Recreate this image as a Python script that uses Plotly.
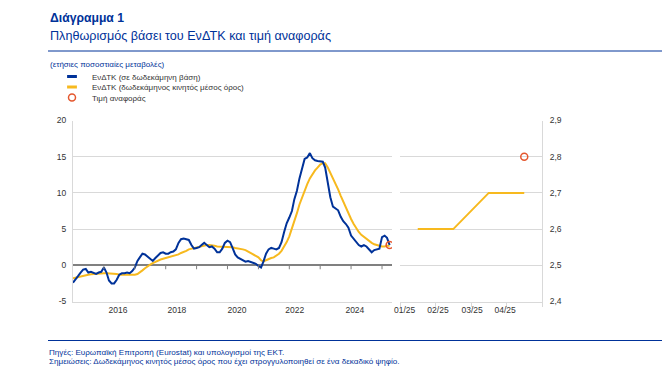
import pandas as pd
import plotly.graph_objects as go

# ---------------- data ----------------
start_month = "2015-01-01"

# HICP, annual rate of change (%), monthly Jan 2015 - Apr 2025
hicp_annual = [
    -2.4, -2.0, -1.5, -1.0, -0.6, -0.5, -1.0, -0.9, -1.0, -1.2, -1.0, -0.9,   # 2015
    -0.3, -1.0, -2.1, -2.5, -2.5, -2.0, -1.3, -1.1, -1.1, -1.0, -1.1, -0.8,   # 2016
    -0.3, 0.6, 1.1, 1.6, 1.5, 1.2, 0.8, 0.6, 1.0, 1.4, 1.7, 1.8,             # 2017
    1.6, 1.6, 1.8, 1.9, 2.2, 3.1, 3.6, 3.7, 3.6, 3.5, 2.8, 2.3,              # 2018
    2.4, 2.5, 2.8, 3.1, 2.8, 2.5, 2.6, 2.3, 1.8, 1.8, 2.3, 3.1,              # 2019
    3.4, 3.2, 2.4, 1.5, 1.1, 0.9, 0.6, 0.5, 0.6, 0.5, 0.4, 0.2,              # 2020
    -0.1, -0.3, 0.5, 1.6, 2.2, 2.4, 2.3, 2.2, 2.4, 3.2, 4.6, 5.8,            # 2021
    6.6, 7.5, 9.1, 10.3, 12.0, 13.5, 14.7, 14.9, 15.5, 14.8, 14.5, 14.4,     # 2022
    14.4, 14.3, 13.5, 11.4, 9.4, 8.1, 7.8, 7.6, 6.7, 6.1, 5.7, 5.2,          # 2023
    4.1, 3.7, 3.2, 2.8, 2.6, 2.8, 2.6, 2.2, 1.8, 2.1, 2.2, 2.3,              # 2024
    3.9, 4.1, 3.8, 2.8,                                                       # 2025
]

# HICP, 12-month moving average (%)
hicp_avg = [
    -1.8, -1.7, -1.6, -1.5, -1.4, -1.3, -1.3, -1.25, -1.2, -1.2, -1.1, -1.1,  # 2015
    -1.1, -1.1, -1.1, -1.1, -1.2, -1.2, -1.3, -1.3, -1.35, -1.4, -1.4, -1.4,  # 2016
    -1.3, -1.2, -1.0, -0.7, -0.4, -0.1, 0.1, 0.3, 0.5, 0.7, 0.8, 0.9,         # 2017
    1.0, 1.1, 1.2, 1.3, 1.4, 1.5, 1.7, 1.8, 2.0, 2.2, 2.3, 2.4,               # 2018
    2.5, 2.6, 2.7, 2.8, 2.8, 2.8, 2.8, 2.7, 2.6, 2.6, 2.5, 2.5,               # 2019
    2.5, 2.5, 2.5, 2.4, 2.3, 2.3, 2.2, 2.1, 1.9, 1.8, 1.6, 1.4,               # 2020
    1.1, 0.7, 0.5, 0.7, 0.9, 1.0, 1.1, 1.3, 1.6, 2.0, 2.6, 3.2,               # 2021
    4.0, 5.0, 6.0, 7.2, 8.4, 9.4, 10.3, 11.2, 12.0, 12.6, 13.1, 13.5,         # 2022
    13.9, 14.1, 14.1, 13.5, 12.8, 12.0, 11.3, 10.5, 9.6, 8.8, 8.0, 7.1,       # 2023
    6.4, 5.7, 5.1, 4.6, 4.2, 3.9, 3.7, 3.4, 3.1, 2.9, 2.8, 2.6,               # 2024
    2.6, 2.6, 2.7, 2.7,                                                        # 2025
]

ref_value = 2.8
year_labels = ["2016", "2018", "2020", "2022", "2024"]
year_label_dates = ["2016-06-16", "2018-05-13", "2020-04-22", "2022-03-07", "2024-02-15"]
year_tick_dates = ["2016-01-01", "2017-01-01", "2018-01-01", "2019-01-01", "2020-01-01",
                   "2021-01-01", "2022-01-01", "2023-01-01", "2024-01-01", "2025-01-01"]

zoom_months = ["01/25", "02/25", "03/25", "04/25"]
zoom_avg = [2.6, 2.6, 2.7, 2.7]
zoom_ref = [None, None, None, 2.8]

names = ["ΕνΔΤΚ (σε δωδεκάμηνη βάση)",
         "ΕνΔΤΚ (δωδεκάμηνος κινητός μέσος όρος)",
         "Τιμή αναφοράς"]

# ---------------- style ----------------
W, H = 662, 376
BLUE = "#003299"
YELLOW = "#F7B91E"
RED = "#E4572E"
GRID = "#D9D9D9"
ZERO = "#808080"
TXT = "#333333"
FONT = "Liberation Sans, Arial, sans-serif"

def px_x(p):
    return p / W

def px_y(p):
    return 1 - p / H

dates = pd.date_range(start_month, periods=len(hicp_annual), freq="MS")
zoom_x = list(range(len(zoom_months)))

fig = go.Figure()

# left panel
fig.add_trace(go.Scatter(x=dates, y=hicp_avg, mode="lines", name=names[1],
                         line=dict(color=YELLOW, width=2), showlegend=False,
                         xaxis="x", yaxis="y"))
fig.add_trace(go.Scatter(x=dates, y=hicp_annual, mode="lines", name=names[0],
                         line=dict(color=BLUE, width=2), showlegend=False,
                         xaxis="x", yaxis="y"))
fig.add_trace(go.Scatter(x=[dates[-1]], y=[ref_value], mode="markers", name=names[2],
                         marker=dict(symbol="circle-open", size=7, color=RED,
                                     line=dict(width=1.5, color=RED)),
                         legend="legend3", showlegend=True, xaxis="x", yaxis="y"))

# right panel
fig.add_trace(go.Scatter(x=zoom_x, y=zoom_avg, mode="lines", name=names[1],
                         line=dict(color=YELLOW, width=2), showlegend=False,
                         xaxis="x2", yaxis="y2"))
fig.add_trace(go.Scatter(x=zoom_x, y=zoom_ref, mode="markers", name=names[2],
                         marker=dict(symbol="circle-open", size=7, color=RED,
                                     line=dict(width=1.5, color=RED)),
                         showlegend=False, xaxis="x2", yaxis="y2"))

# legend entries (short thick dash symbols)
fig.add_trace(go.Scatter(x=[None], y=[None], mode="markers", name=names[0],
                         marker=dict(symbol="line-ew", size=7, color=BLUE,
                                     line=dict(width=3, color=BLUE)),
                         legend="legend", xaxis="x", yaxis="y"))
fig.add_trace(go.Scatter(x=[None], y=[None], mode="markers", name=names[1],
                         marker=dict(symbol="line-ew", size=7, color=YELLOW,
                                     line=dict(width=3, color=YELLOW)),
                         legend="legend2", xaxis="x", yaxis="y"))

tickfont = dict(family=FONT, size=8.5, color=TXT)
legfont = dict(family=FONT, size=8, color=TXT)

def leg(ypx):
    return dict(x=px_x(52), y=px_y(ypx), xanchor="left", yanchor="middle",
                bgcolor="rgba(0,0,0,0)", borderwidth=0, font=legfont,
                itemwidth=30, tracegroupgap=0)

shapes = []
# title rule and footer rule
shapes.append(dict(type="line", xref="paper", yref="paper", x0=px_x(48), x1=1,
                   y0=px_y(51), y1=px_y(51), line=dict(color=BLUE, width=1)))
shapes.append(dict(type="line", xref="paper", yref="paper", x0=px_x(48), x1=1,
                   y0=px_y(340.5), y1=px_y(340.5), line=dict(color=BLUE, width=1)))
# year tick marks hanging from the zero line
for d in year_tick_dates:
    shapes.append(dict(type="line", xref="x", yref="y", x0=d, x1=d, y0=0, y1=-0.55,
                       line=dict(color=ZERO, width=1)))

annotations = [
    dict(text="<b>Διάγραμμα 1</b>", x=px_x(48), y=px_y(18.5), xref="paper", yref="paper",
         xanchor="left", yanchor="middle", showarrow=False,
         font=dict(family=FONT, size=12.2, color=BLUE)),
    dict(text="Πληθωρισμός βάσει του ΕνΔΤΚ και τιμή αναφοράς", x=px_x(48), y=px_y(36.5),
         xref="paper", yref="paper", xanchor="left", yanchor="middle", showarrow=False,
         font=dict(family=FONT, size=12.6, color=BLUE)),
    dict(text="(ετήσιες ποσοστιαίες μεταβολές)", x=px_x(48), y=px_y(64), xref="paper",
         yref="paper", xanchor="left", yanchor="middle", showarrow=False,
         font=dict(family=FONT, size=8, color=BLUE)),
    dict(text="Πηγές: Ευρωπαϊκή Επιτροπή (Eurostat) και υπολογισμοί της ΕΚΤ.",
         x=px_x(47), y=px_y(352), xref="paper", yref="paper", xanchor="left",
         yanchor="middle", showarrow=False, font=dict(family=FONT, size=8.1, color=BLUE)),
    dict(text="Σημειώσεις: Δωδεκάμηνος κινητός μέσος όρος που έχει στρογγυλοποιηθεί σε ένα δεκαδικό ψηφίο.",
         x=px_x(47), y=px_y(361.5), xref="paper", yref="paper", xanchor="left",
         yanchor="middle", showarrow=False, font=dict(family=FONT, size=8.1, color=BLUE)),
]

ydom = [px_y(301.5), px_y(120.5)]

fig.update_layout(
    width=W, height=H,
    margin=dict(l=0, r=0, t=0, b=0, pad=0),
    paper_bgcolor="white", plot_bgcolor="white",
    separators=",.",
    font=dict(family=FONT, size=8.5, color=TXT),
    legend=leg(76.5), legend2=leg(87), legend3=leg(97.5),
    shapes=shapes, annotations=annotations,
    xaxis=dict(domain=[px_x(73), px_x(392)], anchor="y", type="date",
               range=["2015-01-01", "2025-04-29"],
               tickmode="array", tickvals=year_label_dates, ticktext=year_labels,
               ticks="", showgrid=False, zeroline=False, showline=True,
               linecolor=GRID, linewidth=1, tickfont=tickfont, automargin=False,
               fixedrange=True),
    yaxis=dict(domain=ydom, anchor="x", range=[-5, 20],
               tickmode="array", tickvals=[-5, 0, 5, 10, 15, 20],
               ticktext=["-5", "0", "5", "10", "15", "20"],
               ticks="", ticklabelstandoff=4, showgrid=True, gridcolor=GRID, gridwidth=1,
               zeroline=True, zerolinecolor=ZERO, zerolinewidth=1.5,
               showline=True, linecolor=GRID, linewidth=1,
               tickfont=tickfont, automargin=False, fixedrange=True),
    xaxis2=dict(domain=[px_x(400), px_x(542)], anchor="y2", range=[-0.5, 3.5],
                tickmode="array", tickvals=[-0.37, 0.57, 1.53, 2.46], ticktext=zoom_months,
                ticks="", showgrid=False, zeroline=False, showline=True,
                linecolor=GRID, linewidth=1, tickfont=tickfont, automargin=False,
                minor=dict(ticks="outside", tickmode="linear", tick0=-0.5, dtick=1,
                           ticklen=4, tickcolor=GRID, showgrid=False),
                fixedrange=True),
    yaxis2=dict(domain=ydom, anchor="x2", side="right", range=[2.4, 2.9],
                tickmode="linear", tick0=2.4, dtick=0.1, tickformat=".1f",
                ticks="", ticklabelstandoff=5, showgrid=True, gridcolor=GRID, gridwidth=1,
                zeroline=False, showline=True, linecolor=GRID, linewidth=1,
                tickfont=tickfont, automargin=False, fixedrange=True),
)

fig.write_html("out.html", config={"displayModeBar": False},
               post_script="document.body.style.margin='0';document.documentElement.style.overflow='hidden';")
